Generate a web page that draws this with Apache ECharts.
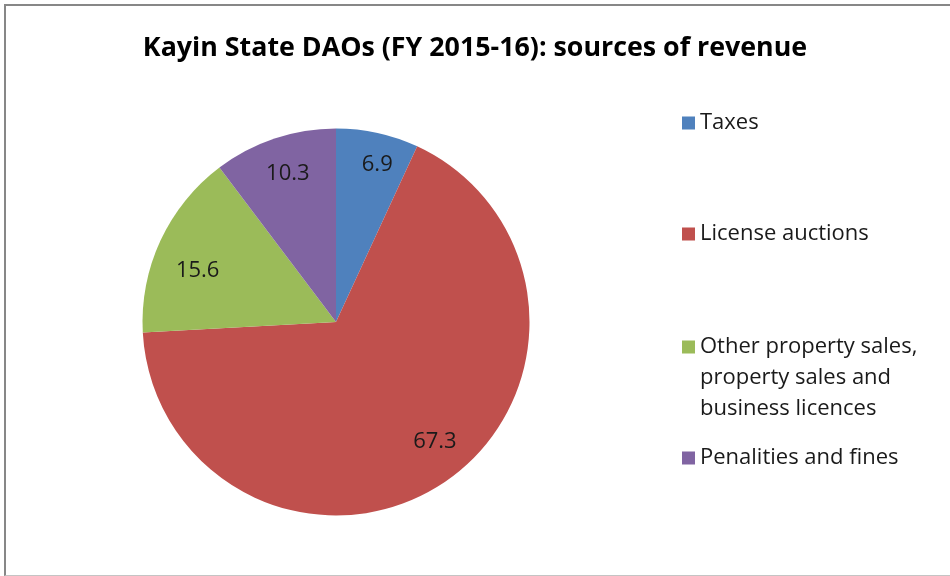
<!DOCTYPE html>
<html>
<head>
<meta charset="utf-8">
<script src="https://cdn.jsdelivr.net/npm/echarts@6/dist/echarts.min.js"></script>
<style>
  html, body { margin: 0; padding: 0; background: #fff; }
  #frame {
    position: absolute; left: 4px; top: 4px; width: 960px; height: 572px;
    border-left: 2px solid #878787; border-top: 2px solid #878787;
    border-bottom: 1px solid #c4c4c4; box-sizing: border-box;
  }
  #chart { position: absolute; left: 0; top: 0; width: 950px; height: 576px; }
</style>
</head>
<body>
<div id="frame"></div>
<div id="chart"></div>
<script>
  // Revenue shares (%)
  var names = ['Taxes', 'License auctions',
    'Other property sales,\nproperty sales and\nbusiness licences',
    'Penalities and fines'];
  var values = [6.9, 67.3, 15.6, 10.3];
  var colors = ['#4f81bd', '#c0504d', '#9bbb59', '#8064a2'];

  var font = '"Open Sans", sans-serif';
  var lineH = 31;
  // small label nudges to mimic Excel's "best fit" placement
  var labelNudge = [[8, -6], [12, -8], [2, 14], [1, -2]];

  var pieData = names.map(function (n, i) {
    return { name: n, value: values[i], itemStyle: { color: colors[i] } };
  });

  // one legend per entry so the vertical spacing matches the original
  var firstLineY = [123, 234, 347, 458];
  var legends = names.map(function (n, i) {
    var lines = n.split('\n').length;
    var h = lines * lineH;
    // square sits beside the first text line
    var sq = 'path://M0,' + (lineH / 2 - 6.5) + 'H13V' + (lineH / 2 + 6.5) +
      'H0Z M0,0L0.01,0 M0,' + h + 'L0.01,' + h;
    return {
      orient: 'vertical',
      left: 682,
      top: firstLineY[i] - lineH / 2,
      padding: 0,
      itemWidth: 13,
      itemHeight: h,
      icon: sq,
      selectedMode: false,
      data: [n],
      textStyle: { fontFamily: font, fontSize: 22, color: '#1a1a1a', lineHeight: lineH },
      itemGap: 0
    };
  });

  var chart = echarts.init(document.getElementById('chart'));
  var option = {
    animation: false,
    title: {
      text: 'Kayin State DAOs (FY 2015-16): sources of revenue',
      left: 'center',
      top: 30,
      textStyle: { fontFamily: font, fontSize: 26.8, fontWeight: 'bold', color: '#000' }
    },
    legend: legends,
    series: [
      {
        name: 'revenue',
        type: 'pie',
        center: [336, 322],
        radius: 193.5,
        startAngle: 90,
        label: { show: false },
        labelLine: { show: false },
        emphasis: { disabled: true },
        data: pieData
      },
      {
        // transparent ring only for placing the value labels near the rim
        name: 'labels',
        type: 'pie',
        center: [336, 322],
        radius: [110, 193.5],
        startAngle: 90,
        silent: true,
        itemStyle: { color: 'rgba(0,0,0,0)' },
        label: {
          show: true, position: 'inside', formatter: '{c}',
          fontFamily: font, fontSize: 22, color: '#1a1a1a'
        },
        labelLine: { show: false },
        emphasis: { disabled: true },
        data: names.map(function (n, i) {
          return { name: n, value: values[i], label: { offset: labelNudge[i] } };
        })
      }
    ]
  };
  chart.setOption(option);
</script>
</body>
</html>
